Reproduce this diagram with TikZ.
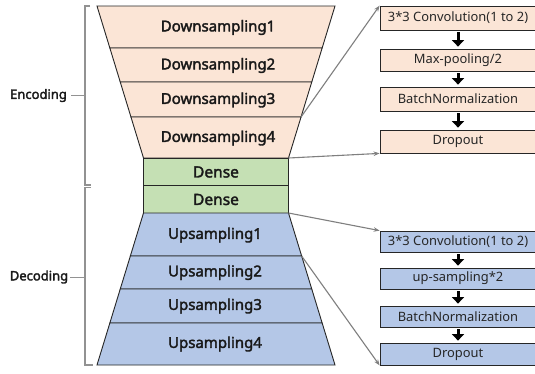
\documentclass[tikz,border=0pt]{standalone}
\usepackage{fontspec}
\setmainfont{Noto Sans}[AutoFakeBold=2.2]
\usetikzlibrary{arrows.meta}
\definecolor{peach}{HTML}{FBE5D6}
\definecolor{dgreen}{HTML}{C5E0B4}
\definecolor{lblue}{HTML}{B4C7E7}
\definecolor{edge}{HTML}{262626}
\definecolor{gline}{HTML}{7F7F7F}
\tikzset{
  x=1pt, y=-1pt,
  layer/.style={draw=edge, line width=0.9pt, line join=miter},
  lbl/.style={font=\bfseries\fontsize{15}{16}\selectfont, text=black!90, inner sep=0pt},
  dlbl/.style={font=\bfseries\fontsize{15.5}{16}\selectfont, text=black!90, inner sep=0pt},
  rbox/.style={draw=edge, line width=0.8pt, minimum width=156pt, inner sep=0pt,
    font=\fontsize{12.9}{13}\selectfont, text=black!85},
  barrow/.style={line width=3pt, -{Triangle[width=12pt,length=6.5pt]}, shorten <=2pt, shorten >=2pt},
  conn/.style={draw=gline, line width=1.1pt, -{Stealth[length=6pt,width=4.5pt]}},
  brace/.style={draw=gline!85, line width=1.3pt},
  side/.style={font=\bfseries\fontsize{13}{14}\selectfont, inner sep=0pt, text=black!90},
}
\begin{document}
\begin{tikzpicture}
\clip (0,0) rectangle (535,373);
\fill[white] (0,0) rectangle (535,373);
% encoder rows
\filldraw[layer, fill=peach] (97,6) -- (335,6) -- (322.15,48) -- (109.85,48) -- cycle;
\filldraw[layer, fill=peach] (109.85,48) -- (322.15,48) -- (311.75,82) -- (120.25,82) -- cycle;
\filldraw[layer, fill=peach] (120.25,82) -- (311.75,82) -- (301.04,117) -- (130.96,117) -- cycle;
\filldraw[layer, fill=peach] (130.96,117) -- (301.04,117) -- (288.5,158) -- (143.5,158) -- cycle;
% dense
\filldraw[layer, fill=dgreen] (143.5,158) rectangle (288.5,185);
\filldraw[layer, fill=dgreen] (143.5,185) rectangle (288.5,213);
% decoder rows
\filldraw[layer, fill=lblue] (143.5,213) -- (288.5,213) -- (301.65,256) -- (130.35,256) -- cycle;
\filldraw[layer, fill=lblue] (130.35,256) -- (301.65,256) -- (311.75,289) -- (120.25,289) -- cycle;
\filldraw[layer, fill=lblue] (120.25,289) -- (311.75,289) -- (322.15,323) -- (109.85,323) -- cycle;
\filldraw[layer, fill=lblue] (109.85,323) -- (322.15,323) -- (335,365) -- (97,365) -- cycle;
% labels
\node[lbl] (dn1) at (218,27.5) {Downsampling1};
\node[lbl] (dn2) at (218,65.5) {Downsampling2};
\node[lbl] (dn3) at (218,100) {Downsampling3};
\node[lbl] (dn4) at (218,138) {Downsampling4};
\node[dlbl] (de1) at (216,172) {Dense};
\node[dlbl] (de2) at (216,199.5) {Dense};
\node[lbl] (up1) at (215,235) {Upsampling1};
\node[lbl] (up2) at (215,272.5) {Upsampling2};
\node[lbl] (up3) at (215,306) {Upsampling3};
\node[lbl] (up4) at (215,344) {Upsampling4};
% right encoder boxes
\node[rbox, fill=peach, minimum height=24pt] (c1) at (458,18) {3*3 Convolution(1 to 2)};
\node[rbox, fill=peach, minimum height=22pt] (c2) at (458,60) {Max-pooling/2};
\node[rbox, fill=peach, minimum height=24pt] (c3) at (458,99) {BatchNormalization};
\node[rbox, fill=peach, minimum height=23pt] (c4) at (458,141.5) {Dropout};
\draw[barrow] (c1) -- (c2);
\draw[barrow] (c2) -- (c3);
\draw[barrow] (c3) -- (c4);
% right decoder boxes
\node[rbox, fill=lblue, minimum height=21pt] (u1) at (458,241.5) {3*3 Convolution(1 to 2)};
\node[rbox, fill=lblue, minimum height=21pt] (u2) at (458,278.5) {up-sampling*2};
\node[rbox, fill=lblue, minimum height=21pt] (u3) at (458,316.5) {BatchNormalization};
\node[rbox, fill=lblue, minimum height=22pt] (u4) at (458,354) {Dropout};
\draw[barrow] (u1) -- (u2);
\draw[barrow] (u2) -- (u3);
\draw[barrow] (u3) -- (u4);
% connectors
\coordinate (e3) at (301.04,117);
\coordinate (e4) at (288.5,158);
\coordinate (d0) at (288.5,213);
\coordinate (d1) at (301.65,256);
\draw[conn] (e3) -- (c1.north west);
\draw[conn] (e4) -- (c4.south west);
\draw[conn] (d0) -- (u1.north west);
\draw[conn] (d1) -- (u4.south west);
% braces
\draw[brace] (90,6) -- (85,6) -- (85,185) -- (91,185);
\draw[brace] (91,187.5) -- (85,187.5) -- (85,365) -- (93,365);
\node[side] (enc) at (38.5,95.5) {Encoding};
\node[side] (dec) at (39,277) {Decoding};
\coordinate (eb) at (85,95.5);
\coordinate (db) at (85,277);
\draw[brace, line width=1pt] ([xshift=4pt]enc.east) -- (eb);
\draw[brace, line width=1pt] ([xshift=2pt]dec.east) -- (db);
\end{tikzpicture}
\end{document}
